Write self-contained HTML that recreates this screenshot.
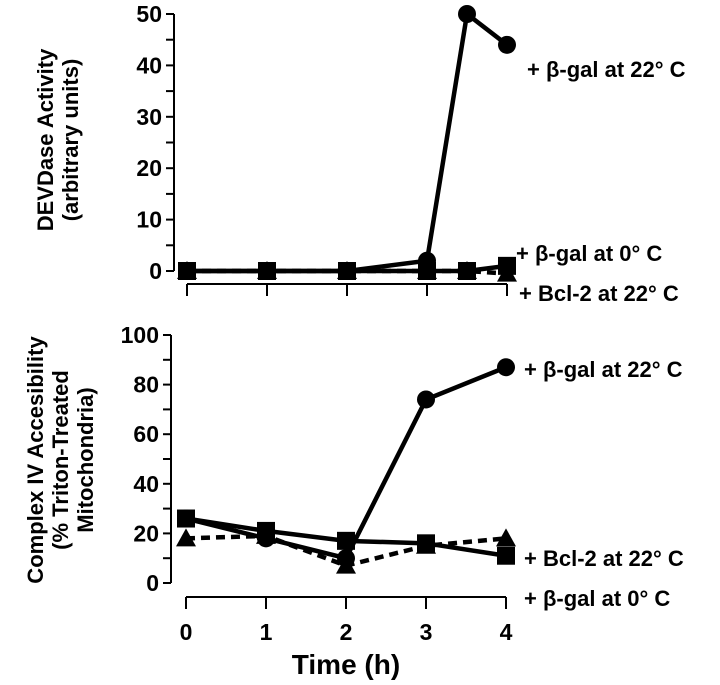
<!DOCTYPE html>
<html><head><meta charset="utf-8"><style>
body{margin:0;background:#fff}
svg{display:block;font-family:"Liberation Sans",Arial,sans-serif;font-weight:bold}
</style></head><body>
<svg id="c" width="720" height="685"></svg>
<script>
const times=[0,1,2,3,3.5,4];
const topCircle=[0,0,0,2,50,44];
const topSquare=[0,0,0,0,0,1];
const topTriangle=[0,0,0,0,0,-0.5];
const topTicks=[0,10,20,30,40,50];
const botTimes=[0,1,2,3,4];
const botCircle=[26,18,10,74,87];
const botSquare=[26,21,17,16,11];
const botTriangle=[18,19,7,15,18];
const botTicks=[0,20,40,60,80,100];
const xTicks=[0,1,2,3,4];
const NS="http://www.w3.org/2000/svg",svg=document.getElementById('c');
function mk(t,a,p){const e=document.createElementNS(NS,t);for(const k in a)e.setAttribute(k,a[k]);(p||svg).appendChild(e);return e;}
function panel(cfg){
 const xs=v=>cfg.x0+v*80, ys=v=>cfg.y0-(v-cfg.ymin)*cfg.k;
 const g=mk('g',{});
 
 
 mk('line',{x1:cfg.ax,y1:ys(cfg.ymax),x2:cfg.ax,y2:ys(0),stroke:'#000','stroke-width':2},g);
 const step=cfg.ticks[1]-cfg.ticks[0];
 for(let v=0;v<=cfg.ymax+0.001;v+=step/2){
  mk('line',{x1:cfg.ax-8,y1:ys(v),x2:cfg.ax,y2:ys(v),stroke:'#000','stroke-width':2},g);
 }
 cfg.ticks.forEach(v=>{const t=mk('text',{x:cfg.ax-12,y:ys(v)+8,'text-anchor':'end','font-size':23},g);t.textContent=v;
  });
 mk('line',{x1:xs(0),y1:cfg.xa,x2:xs(4),y2:cfg.xa,stroke:'#000','stroke-width':2},g);
 xTicks.forEach(v=>{mk('line',{x1:xs(v),y1:cfg.xa,x2:xs(v),y2:cfg.xa+12,stroke:'#000','stroke-width':2},g);
  if(cfg.labels){const t=mk('text',{x:xs(v),y:cfg.xa+43,'text-anchor':'middle','font-size':23},g);t.textContent=v;
  }});
 const line=(X,Y,dash,nm)=>{const l=mk('polyline',{points:X.map((t,i)=>xs(t)+','+ys(Y[i])).join(' '),fill:'none',stroke:'#000','stroke-width':4.5,'stroke-dasharray':dash||'none'},g);
  };
 line(cfg.t,cfg.tri,'9,6','series-bcl2-22c');
 cfg.t.forEach((t,i)=>{const x=xs(t),y=ys(cfg.tri[i]);const p=mk('polygon',{points:`${x},${y-10} ${x-10},${y+8} ${x+10},${y+8}`},g);
  });
 line(cfg.t,cfg.sq,null,'series-bgal-0c');
 line(cfg.t,cfg.ci,null,'series-bgal-22c');
 cfg.t.forEach((t,i)=>{const c=mk('circle',{cx:xs(t),cy:ys(cfg.ci[i]),r:9},g);
  });
 cfg.t.forEach((t,i)=>{const r=mk('rect',{x:xs(t)-9,y:ys(cfg.sq[i])-9,width:18,height:18},g);
  });
}
panel({name:'top-panel',x0:187,y0:271,k:5.14,ymin:0,ymax:50,ax:174,xa:284,ticks:topTicks,t:times,ci:topCircle,sq:topSquare,tri:topTriangle,labels:false});
panel({name:'bottom-panel',x0:186,y0:583,k:2.48,ymin:0,ymax:100,ax:171,xa:597,ticks:botTicks,t:botTimes,ci:botCircle,sq:botSquare,tri:botTriangle,labels:true});
function txt(s,x,y,sz,nm,rot){const t=mk('text',{x:x,y:y,'font-size':sz,'text-anchor':rot?'middle':'start'});
 if(rot)t.setAttribute('transform',`rotate(-90 ${x} ${y})`);t.textContent=s;
 }
txt('+ β-gal at 22° C',527,77,22,'legend-top-bgal-22c');
txt('+ β-gal at 0° C',516,261,22,'legend-top-bgal-0c');
txt('+ Bcl-2 at 22° C',519,301,22,'legend-top-bcl2-22c');
txt('+ β-gal at 22° C',524,377,22,'legend-bottom-bgal-22c');
txt('+ Bcl-2 at 22° C',524,566,22,'legend-bottom-bcl2-22c');
txt('+ β-gal at 0° C',524,606,22,'legend-bottom-bgal-0c');
txt('DEVDase Activity',53,140,22,'top-y-axis-title',1);
txt('(arbitrary units)',78,140,22,'top-y-axis-title-units',1);
txt('Complex IV Accesibility',43,460,22,'bottom-y-axis-title',1);
txt('(% Triton-Treated',68,460,22,'bottom-y-axis-title-line2',1);
txt('Mitochondria)',93,460,22,'bottom-y-axis-title-line3',1);
const xt=mk('text',{x:346,y:674,'text-anchor':'middle','font-size':28});xt.textContent='Time (h)';

</script>
</body></html>
